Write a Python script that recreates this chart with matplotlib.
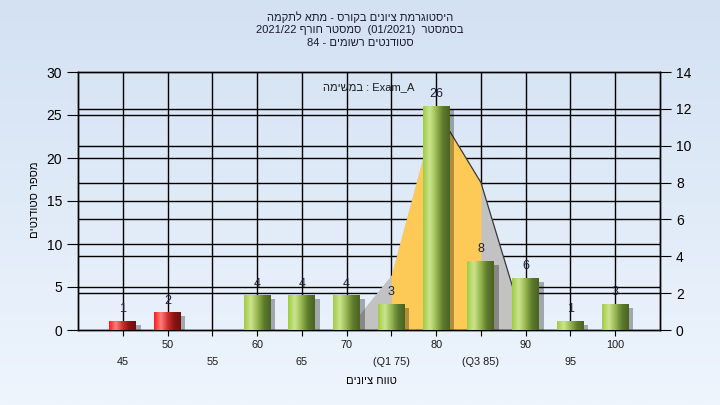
import numpy as np
import matplotlib.pyplot as plt
from matplotlib.colors import LinearSegmentedColormap

# Data
grades = [45, 50, 55, 60, 65, 70, 75, 80, 85, 90, 95, 100]
tick_labels = ["45", "50", "55", "60", "65", "70", "(Q1 75)", "80", "(Q3 85)", "90", "95", "100"]
students = [1, 2, 0, 4, 4, 4, 3, 26, 8, 6, 1, 3]
polygon = [0, 0, 0, 0, 0, 0, 3, 12, 8, 0, 0, 0]  # right axis
failing = [True, True, False, False, False, False, False, False, False, False, False, False]

title_lines = ["היסטוגרמת ציונים בקורס - מתא לתקמה",
               "בסמסטר  (01/2021)  סמסטר חורף 2021/22",
               "סטודנטים רשומים - 84"]
task_text = "Exam_A : במשימה"
xlabel = "טווח ציונים"
ylabel = "מספר סטודנטים"


def rtl(s):
    # simple bidi reordering for a right-to-left paragraph
    def kind(c):
        if '\u0590' <= c <= '\u05ff':
            return 'R'
        if c.isdigit():
            return 'EN'
        if c.isalpha():
            return 'L'
        if c in '/.,:':
            return 'CS'
        return 'N'
    t = [kind(c) for c in s]
    for i in range(1, len(t) - 1):
        if t[i] == 'CS' and t[i - 1] == 'EN' and t[i + 1] == 'EN':
            t[i] = 'EN'
    last = 'R'
    for i, k in enumerate(t):
        if k in ('R', 'L'):
            last = k
        elif k == 'EN' and last == 'L':
            t[i] = 'L'
    strong = ['R' if k == 'EN' else k for k in t]
    lev = [0] * len(s)
    i = 0
    while i < len(s):
        if strong[i] in ('R', 'L'):
            lev[i] = 1 if strong[i] == 'R' else 2
            i += 1
            continue
        j = i
        while j < len(s) and strong[j] not in ('R', 'L'):
            j += 1
        before = strong[i - 1] if i > 0 else 'R'
        after = strong[j] if j < len(s) else 'R'
        d = before if before == after else 'R'
        for k in range(i, j):
            lev[k] = 1 if d == 'R' else 2
        i = j
    for k in range(len(s)):
        if t[k] == 'EN':
            lev[k] = 2
    chars = list(s)
    mirror = {'(': ')', ')': '(', '[': ']', ']': '['}
    chars = [mirror.get(c, c) if lv == 1 else c for c, lv in zip(chars, lev)]
    idx = list(range(len(s)))
    i = 0
    while i < len(idx):
        if lev[idx[i]] >= 2:
            j = i
            while j < len(idx) and lev[idx[j]] >= 2:
                j += 1
            idx[i:j] = idx[i:j][::-1]
            i = j
        else:
            i += 1
    idx = idx[::-1]
    return ''.join(chars[k] for k in idx)


plt.rcParams['font.family'] = ['Liberation Sans', 'DejaVu Sans']
plt.rcParams['font.size'] = 8

fig = plt.figure(figsize=(7.2, 4.05), dpi=100)

# background gradient
bg = fig.add_axes([0, 0, 1, 1], zorder=-10)
grad = np.linspace(0, 1, 256).reshape(-1, 1)
bg_cmap = LinearSegmentedColormap.from_list("bg", ["#d3e1f3", "#eef5fd"])
bg.imshow(grad, aspect='auto', cmap=bg_cmap, extent=[0, 1, 0, 1], origin='upper')
bg.axis('off')

ax = fig.add_axes([78 / 720, 75 / 405, 582 / 720, 258 / 405])
x = np.arange(len(grades))
ax2 = ax.twinx()
# right axis holds the background layer, left axis (bars) on top
ax.set_zorder(2)
ax2.set_zorder(1)
ax.patch.set_visible(False)
ax2.set_facecolor('#b4b4b4')
ax.set_xlim(-1, len(grades))
ax.set_ylim(0, 30)
ax2.set_ylim(0, 14)

# gridlines of both axes
for v in range(5, 30, 5):
    ax2.axhline(v * 14 / 30, color='black', lw=1, zorder=1)
for v in range(2, 14, 2):
    ax2.axhline(v, color='black', lw=1, zorder=1)
for xi in x:
    ax2.axvline(xi, color='black', lw=1, zorder=1)

# frequency polygon on right axis, quartile range in yellow
poly = np.array(polygon, dtype=float)
ax2.fill_between(x, 0, poly, color='#c2c2c2', zorder=2, lw=0)
q = (x >= 6) & (x <= 8)
ax2.fill_between(x[q], 0, poly[q], color='#fdca57', zorder=2, lw=0)
ax2.plot(x[7:10], poly[7:10], color='#3a3a3a', lw=0.9, zorder=2)

# bars with shading
green = LinearSegmentedColormap.from_list("g", ["#a2cc45", "#cbe58f", "#97b650", "#5d7a2c", "#4a6322"])
red = LinearSegmentedColormap.from_list("r", ["#ff1a1a", "#ff8080", "#d03030", "#8a1515", "#6e1010"])
hgrad = np.linspace(0, 1, 64).reshape(1, -1)
w = 0.6
for xi, v, f in zip(x, students, failing):
    if v == 0:
        continue
    ax.bar(xi + 0.1, v, w, bottom=-0.4, color='black', alpha=0.3, zorder=3, lw=0)
    ax.imshow(hgrad, aspect='auto', cmap=red if f else green,
              extent=[xi - w / 2, xi + w / 2, 0, v], zorder=4)
    ax.text(xi, v + 0.7, str(v), ha='center', va='bottom', fontsize=9, color='#20203a', zorder=5)
ax.set_xlim(-1, len(grades))
ax.set_ylim(0, 30)

# axes styling
ax.set_xticks(x)
ax.set_xticklabels([])
ax.tick_params(axis='x', length=4, color='black')
for xi, lab in zip(x, tick_labels):
    ax.text(xi, -1.75 if xi % 2 else -3.75, lab, ha='center', va='center', fontsize=7.8, color='#1a1a1a',
            clip_on=False)
ax.set_yticks(range(0, 31, 5))
ax.tick_params(axis='y', length=8, labelsize=10, colors='black')
ax2.set_yticks(range(0, 15, 2))
ax2.tick_params(axis='y', length=8, labelsize=10, colors='black')
for a in (ax, ax2):
    for s in a.spines.values():
        s.set_color('black')
        s.set_linewidth(1)

ax.text(0.5, 0.962, rtl(task_text), transform=ax.transAxes, ha='center', va='top', fontsize=8, color='#1a1a1a')
fig.text(35 / 720, 1 - 200 / 405, rtl(ylabel), rotation=90, ha='center', va='center', fontsize=8)
fig.text(371 / 720, 1 - 381 / 405, rtl(xlabel), ha='center', va='center', fontsize=8)
for i, line in enumerate(title_lines):
    fig.text(0.5, 1 - (17 + 13 * i) / 405, rtl(line), ha='center', va='center', fontsize=8, color='#1a1a2a')

fig.savefig('out.png', dpi=100)
